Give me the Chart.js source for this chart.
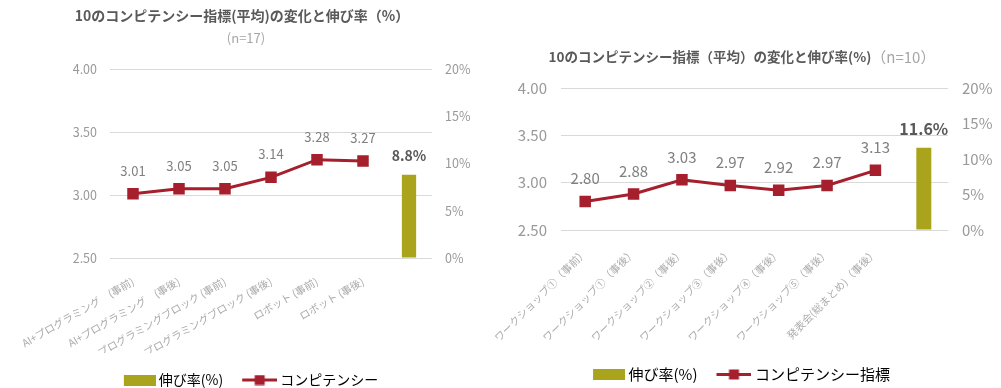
<!DOCTYPE html>
<html lang="ja">
<head>
<meta charset="utf-8">
<script src="https://cdn.jsdelivr.net/npm/chart.js@4.4.1/dist/chart.umd.min.js"></script>
<style>
  html, body { margin: 0; padding: 0; background: #fff; }
  body { width: 1001px; height: 388px; position: relative; overflow: hidden; }
  #leftBox { position: absolute; left: 0; top: 0; width: 500px; height: 388px; }
  #rightBox { position: absolute; left: 480px; top: 0; width: 521px; height: 388px; }
</style>
</head>
<body>
<div id="leftBox"><canvas id="chartLeft"></canvas></div>
<div id="rightBox"><canvas id="chartRight"></canvas></div>
<script>
// --- データ ---
const leftTitle = "10のコンピテンシー指標(平均)の変化と伸び率（%）";
const leftSubtitle = "(n=17)";
const leftLabels = [
  "AI+プログラミング　(事前)",
  "AI+プログラミング　(事後)",
  "プログラミングブロック (事前)",
  "プログラミングブロック (事後)",
  "ロボット (事前)",
  "ロボット (事後)",
  ""
];
const leftScores = [3.01, 3.05, 3.05, 3.14, 3.28, 3.27, null];
const leftGrowth = [null, null, null, null, null, null, 8.8];
const leftLineName = "コンピテンシー";

const rightTitle = "10のコンピテンシー指標（平均）の変化と伸び率(%)";
const rightSubtitle = "（n=10）";
const rightLabels = [
  "ワークショップ①（事前）",
  "ワークショップ①（事後）",
  "ワークショップ②（事後）",
  "ワークショップ③（事後）",
  "ワークショップ④（事後）",
  "ワークショップ⑤（事後）",
  "発表会(総まとめ)（事後）",
  ""
];
const rightScores = [2.80, 2.88, 3.03, 2.97, 2.92, 2.97, 3.13, null];
const rightGrowth = [null, null, null, null, null, null, null, 11.6];
const rightLineName = "コンピテンシー指標";

const barName = "伸び率(%)";

// --- スタイル ---
const FONT = "'Noto Sans CJK JP', 'Noto Sans', sans-serif";
const RED = "#a51f2d";
const OLIVE = "#aaa31c";
const GRID = "#d9d9d9";
const TICK = "#999999";

// 凡例用アイコン (右寄せで描いて文字との隙間を詰める)
function barIcon(w, h) {
  const c = document.createElement("canvas");
  c.width = 38; c.height = h;
  const g = c.getContext("2d");
  g.fillStyle = OLIVE;
  g.fillRect(38 - w, 0, w, h);
  return c;
}
function lineIcon(w, h, m) {
  const c = document.createElement("canvas");
  c.width = 38; c.height = h;
  const g = c.getContext("2d");
  const x0 = 38 - w;
  g.strokeStyle = RED;
  g.lineWidth = 3;
  g.beginPath();
  g.moveTo(x0, h / 2);
  g.lineTo(38, h / 2);
  g.stroke();
  g.fillStyle = RED;
  g.fillRect(x0 + (w - m) / 2, (h - m) / 2, m, m);
  return c;
}

// 値ラベル
const valueLabels = {
  id: "valueLabels",
  afterDatasetsDraw(chart) {
    const ctx = chart.ctx;
    chart.data.datasets.forEach((ds, i) => {
      const lab = ds.valueLabel;
      if (!lab) return;
      const meta = chart.getDatasetMeta(i);
      meta.data.forEach((el, j) => {
        const v = ds.data[j];
        if (v == null) return;
        ctx.save();
        ctx.font = lab.font;
        ctx.fillStyle = lab.color;
        ctx.textAlign = "center";
        ctx.textBaseline = "middle";
        ctx.fillText(lab.format(v), el.x, el.y - lab.offset);
        ctx.restore();
      });
    });
  }
};

// タイトル (複数スタイル)
function headTitle(lines) {
  return {
    id: "headTitle",
    afterDraw(chart) {
      const ctx = chart.ctx;
      lines.forEach(line => {
        ctx.save();
        const widths = line.parts.map(p => { ctx.font = p.font; return ctx.measureText(p.text).width; });
        let x = line.x - widths.reduce((a, b) => a + b, 0) / 2;
        ctx.textAlign = "left";
        ctx.textBaseline = "middle";
        line.parts.forEach((p, k) => {
          ctx.font = p.font;
          ctx.fillStyle = p.color;
          ctx.fillText(p.text, x, line.y);
          x += widths[k];
        });
        ctx.restore();
      });
    }
  };
}

function makeChart(id, cfg) {
  const f = cfg.fontSize;
  return new Chart(document.getElementById(id), {
    type: "bar",
    data: {
      labels: cfg.labels,
      datasets: [
        {
          type: "bar",
          label: barName,
          data: cfg.growth,
          yAxisID: "y1",
          backgroundColor: OLIVE,
          barPercentage: 0.31,
          categoryPercentage: 1,
          order: 2,
          valueLabel: { font: "bold " + cfg.barLabelFont + "px " + FONT, color: "#595959", offset: 19, format: v => v.toFixed(1) + "%" }
        },
        {
          type: "line",
          label: cfg.lineName,
          data: cfg.scores,
          yAxisID: "y",
          borderColor: RED,
          backgroundColor: RED,
          borderWidth: 3,
          pointStyle: "rect",
          pointRadius: 6,
          pointBackgroundColor: RED,
          pointBorderColor: RED,
          order: 1,
          valueLabel: { font: cfg.pointLabelFont + "px " + FONT, color: "#808080", offset: 23, format: v => v.toFixed(2) }
        }
      ]
    },
    options: {
      responsive: true,
      maintainAspectRatio: false,
      animation: false,
      layout: { padding: { left: 0, right: 0, top: cfg.top, bottom: cfg.bottom } },
      scales: {
        x: {
          grid: { display: false },
          border: { display: false },
          afterFit: s => { s.height = cfg.xHeight; s.paddingLeft = 0; s.paddingRight = 0; },
          ticks: {
            autoSkip: false,
            minRotation: cfg.rotation,
            maxRotation: cfg.rotation,
            color: "#ababab",
            padding: cfg.xPad,
            font: { family: FONT, size: cfg.xFont }
          }
        },
        y: {
          position: "left",
          min: 2.5, max: 4.0,
          afterFit: s => { s.width = cfg.leftWidth; },
          grid: { color: GRID, drawTicks: false },
          border: { display: false },
          ticks: { stepSize: 0.5, padding: cfg.tickPad, color: TICK, font: { family: FONT, size: f }, callback: v => v.toFixed(2) }
        },
        y1: {
          position: "right",
          min: 0, max: 20,
          afterFit: s => { s.width = cfg.rightWidth; },
          grid: { drawOnChartArea: false, drawTicks: false },
          border: { display: false },
          ticks: { stepSize: 5, padding: cfg.tickPad, color: TICK, font: { family: FONT, size: f }, callback: v => v + "%" }
        }
      },
      plugins: {
        tooltip: { enabled: false },
        title: { display: false },
        legend: {
          position: "bottom",
          labels: {
            usePointStyle: true,
            pointStyleWidth: 30,
            padding: 20,
            color: "#7f7f7f",
            font: { family: FONT, size: cfg.legendFont },
            generateLabels: () => [
              { text: barName, pointStyle: barIcon(32, 11), fillStyle: OLIVE, strokeStyle: OLIVE, lineWidth: 0, datasetIndex: 0 },
              { text: cfg.lineName, pointStyle: lineIcon(35, 11, 10), fillStyle: RED, strokeStyle: RED, lineWidth: 0, datasetIndex: 1 }
            ]
          }
        }
      }
    },
    plugins: [valueLabels, headTitle(cfg.titleLines)]
  });
}

makeChart("chartLeft", {
  labels: leftLabels,
  scores: leftScores,
  growth: leftGrowth,
  lineName: leftLineName,
  fontSize: 12.5,
  pointLabelFont: 13,
  barLabelFont: 14,
  xFont: 10.5,
  xPad: 9,
  legendFont: 14,
  rotation: 30,
  tickPad: 13,
  leftWidth: 110,
  rightWidth: 68,
  xHeight: 95,
  top: 69,
  bottom: -9,
  titleLines: [
    { x: 242, y: 16, parts: [{ text: leftTitle, font: "bold 14px " + FONT, color: "#595959" }] },
    { x: 246, y: 38, parts: [{ text: leftSubtitle, font: "13px " + FONT, color: "#a6a6a6" }] }
  ]
});

makeChart("chartRight", {
  labels: rightLabels,
  scores: rightScores,
  growth: rightGrowth,
  lineName: rightLineName,
  fontSize: 15,
  pointLabelFont: 15,
  barLabelFont: 16,
  xFont: 10.5,
  xPad: 8,
  legendFont: 15,
  rotation: 45,
  tickPad: 14,
  leftWidth: 81,
  rightWidth: 53,
  xHeight: 117,
  top: 88,
  bottom: -4,
  titleLines: [
    { x: 262, y: 57, parts: [
      { text: rightTitle, font: "bold 13.5px " + FONT, color: "#595959" },
      { text: rightSubtitle, font: "15px " + FONT, color: "#a6a6a6" }
    ] }
  ]
});
</script>
</body>
</html>
